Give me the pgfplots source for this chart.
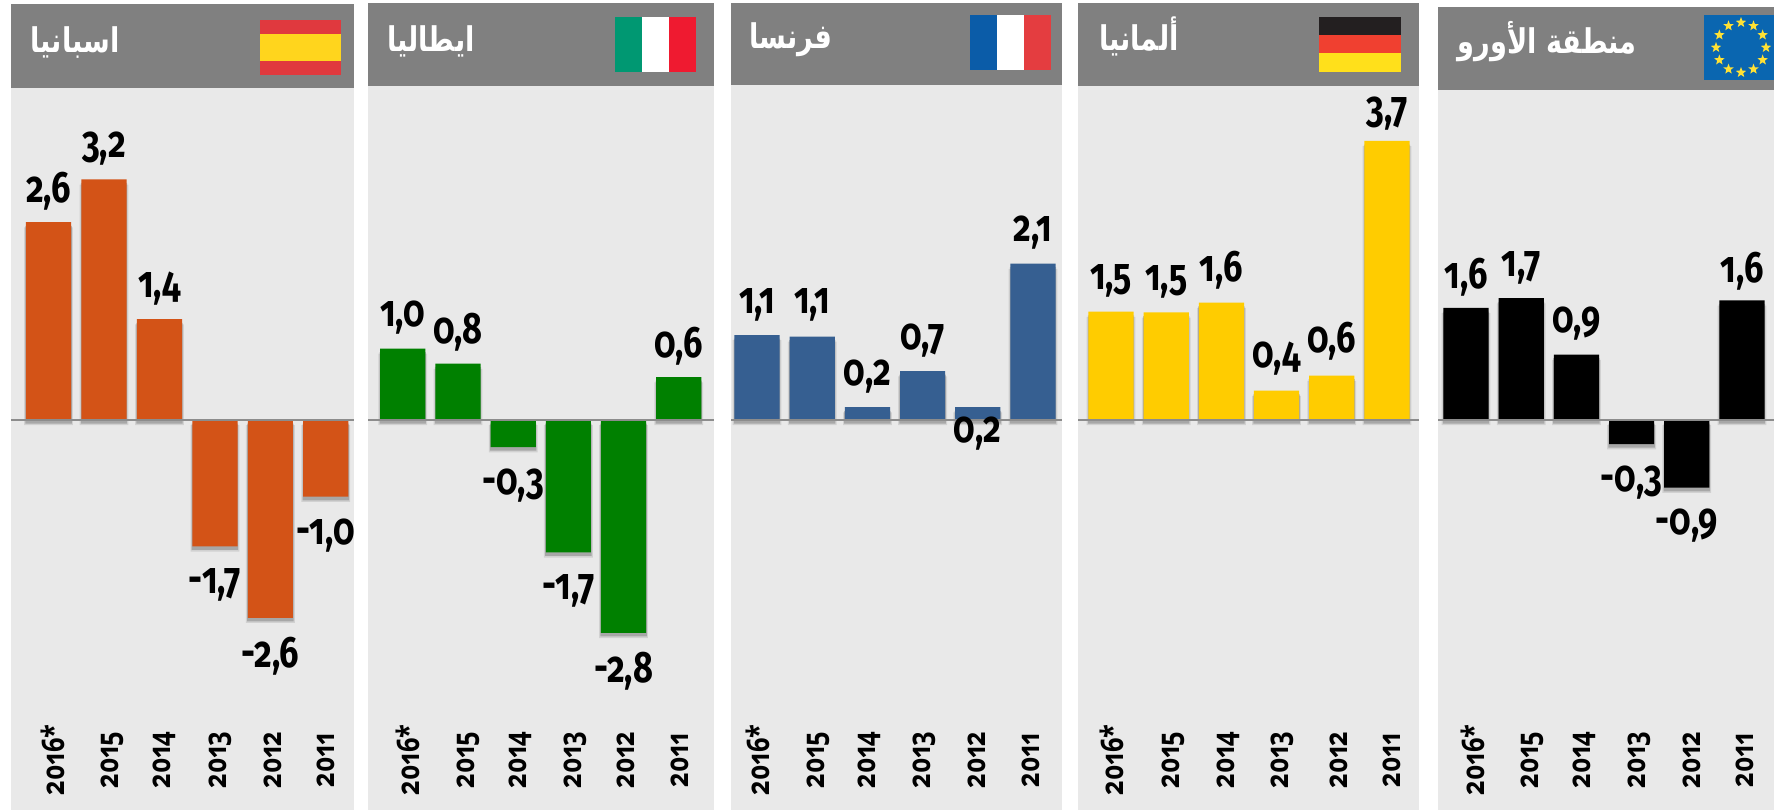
\documentclass[border=0pt]{standalone}
\usepackage{fontspec}
\usepackage{pgfplots}
\usepackage{pgfplotstable}
\pgfplotsset{compat=1.18}
\usetikzlibrary{shapes.geometric}
\newfontfamily\arabicfont[Script=Arabic,FakeStretch=0.8]{DejaVu Sans}
\newcommand\barfont{\fontspec[Numbers=OldStyle,FakeStretch=0.78]{Fira Sans}}
\newcommand\tickfont{\fontspec[Numbers=OldStyle,FakeStretch=0.82]{Open Sans}}
\definecolor{panel}{HTML}{E9E9E9}
\definecolor{head}{HTML}{808080}
\definecolor{cES}{HTML}{D35317}
\definecolor{cIT}{HTML}{008000}
\definecolor{cFR}{HTML}{365F91}
\definecolor{cDE}{HTML}{FFCC00}
\definecolor{cEU}{HTML}{000000}

\pgfplotstableread{
x y lab dy
0 2.63 2,6 15.3
1 3.20 3,2 15.3
2 1.34 1,4 15.3
3 -1.68 -1,7 -19.2
4 -2.63 -2,6 -19
5 -1.02 -1,0 -19.2
}\tES
\pgfplotstableread{
x y lab dy
0 0.95 1,0 15.3
1 0.75 0,8 15.8
2 -0.36 -0,3 -19.2
3 -1.76 -1,7 -19.2
4 -2.83 -2,8 -19
5 0.57 0,6 15.3
}\tIT
\pgfplotstableread{
x y lab dy
0 1.13 1,1 15.3
1 1.11 1,1 15.8
2 0.17 0,2 15.3
3 0.65 0,7 15.3
4 0.17 0,2 -13
5 2.08 2,1 15.3
}\tFR
\pgfplotstableread{
x y lab dy
0 1.44 1,5 15.3
1 1.43 1,5 15.3
2 1.56 1,6 16.4
3 0.39 0,4 15.8
4 0.59 0,6 17
5 3.71 3,7 13.6
}\tDE
\pgfplotstableread{
x y lab dy
0 1.49 1,6 15.3
1 1.62 1,7 15.3
2 0.87 0,9 15.3
3 -0.32 -0,3 -19.2
4 -0.90 -0,9 -19.2
5 1.59 1,6 14.7
}\tEU

\pgfplotsset{
  panelaxis/.style={
    anchor=south west, scale only axis, clip=false,
    ymin=-5.186,
    axis line style={draw=none},
    major tick length=0pt,
    ytick=\empty,
    xticklabels={2016*,2015,2014,2013,2012,2011},
    xticklabel style={yshift=25pt,rotate=90,anchor=center,font=\tickfont\bfseries\fontsize{15.5}{15.5}\selectfont},
    axis background/.style={fill=panel},
  },
}
% shadow layers, bars with their labels, zero line
\newcommand\bars[4]{%
  \addplot[ybar,bar width=24.4pt,bar shift=0pt,fill=black,draw=none,opacity=.10,yshift=-2.6pt] table[x=x,y=y]{#1};
  \addplot[ybar,bar width=23.2pt,bar shift=0pt,fill=black,draw=none,opacity=.20,yshift=-1.8pt] table[x=x,y=y]{#1};
  \addplot[ybar,bar width=22.6pt,bar shift=0pt,fill=#2,draw=none,
    visualization depends on={\thisrow{dy}\as\dyv},
    point meta=explicit symbolic,
    nodes near coords={\pgfplotspointmeta},
    every node near coord/.append style={anchor=center,yshift=\dyv,text=black,
      font=\barfont\bfseries\fontsize{22}{22}\selectfont}]
    table[x=x,y=y,meta=lab]{#1};
  \addplot[no marks,line width=1pt,color=black!45] coordinates {(#3,0)(#4,0)};
}

\begin{document}
\begin{tikzpicture}
\path[use as bounding box] (0,0) rectangle (887pt,405pt);
\fill[white] (0,0) rectangle (887pt,405pt);

\begin{axis}[panelaxis,at={(5.5pt,0pt)},width=171.5pt,height=361pt,
  xmin=-0.678,xmax=5.508,ymax=4.415,
  xtick={0.08,1.15,2.08,3.09,4.04,5.0}]
\bars{\tES}{cES}{-0.678}{5.508}
\end{axis}
\begin{axis}[panelaxis,at={(184pt,0pt)},width=173pt,height=362pt,
  xmin=-0.630,xmax=5.638,ymax=4.441,
  xtick={0.09,1.18,2.13,3.12,4.05,5.02}]
\bars{\tIT}{cIT}{-0.630}{5.638}
\end{axis}
\begin{axis}[panelaxis,at={(365.5pt,0pt)},width=165.5pt,height=362.5pt,
  xmin=-0.471,xmax=5.525,ymax=4.455,
  xtick={0.02,1.11,2.04,3.04,3.98,4.96}]
\bars{\tFR}{cFR}{-0.471}{5.525}
\end{axis}
\begin{axis}[panelaxis,at={(539pt,0pt)},width=170.5pt,height=362pt,
  xmin=-0.598,xmax=5.580,ymax=4.441,
  xtick={0.02,1.13,2.13,3.11,4.13,5.09}]
\bars{\tDE}{cDE}{-0.598}{5.580}
\end{axis}
\begin{axis}[panelaxis,at={(719pt,0pt)},width=168pt,height=360pt,
  xmin=-0.507,xmax=5.58,ymax=4.388,
  xtick={0.13,1.2,2.15,3.14,4.09,5.05}]
\bars{\tEU}{cEU}{-0.507}{5.58}
\end{axis}

\TeXXeTstate=1
% headers and flags, in reference pixels
\begin{scope}[shift={(0pt,405pt)},x=0.5pt,y=-0.5pt]
\fill[head] (11,4) rectangle (354,88);
\fill[head] (368,3) rectangle (714,86);
\fill[head] (731,3) rectangle (1062,85);
\fill[head] (1078,3) rectangle (1419,86);
\fill[head] (1438,7) rectangle (1774,90);

\tikzset{ttl/.style={text=white,anchor=base,font=\arabicfont\bfseries\fontsize{17}{17}\selectfont,inner sep=0pt}}
\node[ttl] at (75,53) {\beginR اسبانيا\endR};
\node[ttl] at (431,52) {\beginR ايطاليا\endR};
\node[ttl] at (791,49) {\beginR فرنسا\endR};
\node[ttl] at (1139,51) {\beginR ألمانيا\endR};
\node[ttl] at (1547,54) {\beginR منطقة الأورو\endR};

\definecolor{fa}{HTML}{E0393E}\definecolor{fb}{HTML}{FFD51D}
\definecolor{fc}{HTML}{009872}\definecolor{fd}{HTML}{EF1A30}
\definecolor{fe}{HTML}{0B5CA8}\definecolor{ff}{HTML}{E43D40}
\definecolor{fg}{HTML}{231F20}\definecolor{fh}{HTML}{F04030}
\definecolor{fi}{HTML}{FFE01B}\definecolor{fj}{HTML}{0A66B0}
\definecolor{fk}{HTML}{FFE135}
% Spain
\fill[fa] (260,20) rectangle (341,75);
\fill[fb] (260,34) rectangle (341,61);
% Italy
\fill[fc] (615,17) rectangle (642,72);
\fill[white] (642,17) rectangle (669,72);
\fill[fd] (669,17) rectangle (696,72);
% France
\fill[fe] (970,15) rectangle (997,70);
\fill[white] (997,15) rectangle (1024,70);
\fill[ff] (1024,15) rectangle (1051,70);
% Germany
\fill[fg] (1319,17) rectangle (1401,35);
\fill[fh] (1319,35) rectangle (1401,53);
\fill[fi] (1319,53) rectangle (1401,72);
% Europe
\fill[fj] (1704,15) rectangle (1774,80);
\foreach \a in {0,30,...,330}
  \node[star,star points=5,star point ratio=2.4,fill=fk,inner sep=0pt,minimum size=5.5pt] at ({1741+25*cos(\a)},{47.5+25*sin(\a)}) {};
\end{scope}
\end{tikzpicture}
\end{document}
